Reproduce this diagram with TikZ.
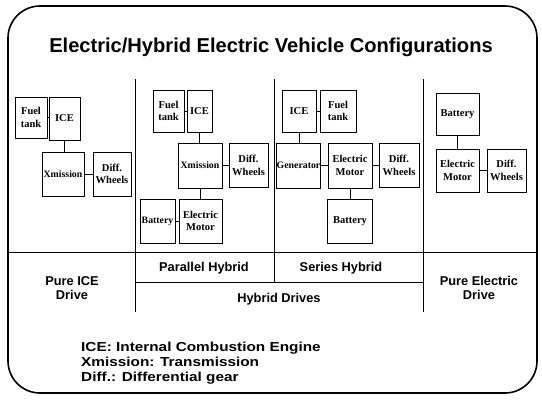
\documentclass[tikz,border=0pt]{standalone}
\usepackage{fontspec}
\setmainfont{Liberation Serif}
\newfontfamily\headfont{Liberation Sans}
\newfontfamily\notefont[FakeStretch=1.18]{Liberation Sans}
\usetikzlibrary{positioning}

\begin{document}
\begin{tikzpicture}[
    x=1pt, y=-1pt,
    part/.style={draw, line width=0.9pt, inner sep=0pt, align=center, font=\fontsize{10.5}{12.5}\selectfont\bfseries},
    narrow/.style={font=\fontsize{9.8}{12}\selectfont\bfseries},
    link/.style={line width=1pt},
    rule/.style={line width=1pt},
    tag/.style={align=center, font=\headfont\bfseries\fontsize{12.8}{14.5}\selectfont}
  ]
  \useasboundingbox (0,0) rectangle (542,400);
  \draw[line width=1.6pt, rounded corners=32pt] (8,6) rectangle (537,393);

  \node[anchor=base, font=\headfont\bfseries\fontsize{20.1}{24}\selectfont] (title) at (271,52) {Electric/Hybrid Electric Vehicle Configurations};

  % panel rules
  \draw[rule] (135,79) -- (135,312);
  \draw[rule] (274,79) -- (274,282);
  \draw[rule] (423,79) -- (423,312);
  \draw[rule] (9,252) -- (537,252);
  \draw[rule] (135,282) -- (423,282);

  % pure ICE
  \node[part, minimum width=32, minimum height=41] (fuelA) at (31,117.5) {Fuel\\tank};
  \node[part, minimum width=31, minimum height=43] (iceA) at (64.5,118.5) {ICE};
  \node[part, narrow, minimum width=42, minimum height=44] (xmA) at (63,174) {Xmission};
  \node[part, minimum width=38, minimum height=44] (diffA) at (112,174) {Diff.\\Wheels};
  \draw[link] (fuelA.east) -- (fuelA.east -| iceA.west);
  \draw[link] (iceA.south) -- (iceA.south |- xmA.north);
  \draw[link] (xmA.east) -- (xmA.east -| diffA.west);

  % parallel hybrid
  \node[part, minimum width=31, minimum height=42] (fuelB) at (168.5,111) {Fuel\\tank};
  \node[part, minimum width=25, minimum height=42] (iceB) at (199.5,111) {ICE};
  \node[part, narrow, minimum width=44, minimum height=45] (xmB) at (200,165.5) {Xmission};
  \node[part, minimum width=39, minimum height=44] (diffB) at (248.5,165.5) {Diff.\\Wheels};
  \node[part, narrow, minimum width=35, minimum height=44] (batB) at (157.5,221) {Battery};
  \node[part, minimum width=43, minimum height=44] (emB) at (200.5,221) {Electric\\Motor};
  \draw[link] (fuelB.east) -- (fuelB.east -| iceB.west);
  \draw[link] (iceB.south) -- (iceB.south |- xmB.north);
  \draw[link] (xmB.east) -- (xmB.east -| diffB.west);
  \draw[link] (xmB.south) -- (xmB.south |- emB.north);
  \draw[link] (batB.east) -- (batB.east -| emB.west);

  % series hybrid
  \node[part, minimum width=34, minimum height=42] (iceC) at (299,111) {ICE};
  \node[part, minimum width=36, minimum height=42] (fuelC) at (338,111) {Fuel\\tank};
  \node[part, narrow, minimum width=43, minimum height=45] (genC) at (298.5,165.5) {Generator};
  \node[part, minimum width=44, minimum height=45] (emC) at (350,165.5) {Electric\\Motor};
  \node[part, minimum width=40, minimum height=44] (diffC) at (399,165.5) {Diff.\\Wheels};
  \node[part, minimum width=45, minimum height=44] (batC) at (350,221) {Battery};
  \draw[link] (iceC.east) -- (iceC.east -| fuelC.west);
  \draw[link] (iceC.south) -- (iceC.south |- genC.north);
  \draw[link] (genC.east) -- (genC.east -| emC.west);
  \draw[link] (emC.east) -- (emC.east -| diffC.west);
  \draw[link] (emC.south) -- (emC.south |- batC.north);

  % pure electric
  \node[part, minimum width=43, minimum height=42] (batD) at (457.5,114) {Battery};
  \node[part, minimum width=43, minimum height=43] (emD) at (457.5,170.5) {Electric\\Motor};
  \node[part, minimum width=39, minimum height=43] (diffD) at (506.5,170.5) {Diff.\\Wheels};
  \draw[link] (batD.south) -- (batD.south |- emD.north);
  \draw[link] (emD.east) -- (emD.east -| diffD.west);

  % panel names
  \node[tag] (pureice) at (72,288) {Pure ICE\\Drive};
  \node[tag] (parallel) at (204,268) {Parallel Hybrid};
  \node[tag] (series) at (341,268) {Series Hybrid};
  \node[tag] (hybrid) at (279,299) {Hybrid Drives};
  \node[tag] (pureel) at (479,288) {Pure Electric\\Drive};

  \node[anchor=west, align=left, inner sep=0pt, font=\notefont\bfseries\fontsize{13}{15}\selectfont] (legend) at (81,363) {ICE: Internal Combustion Engine\\Xmission: Transmission\\Diff.: Differential gear};
\end{tikzpicture}
\end{document}
